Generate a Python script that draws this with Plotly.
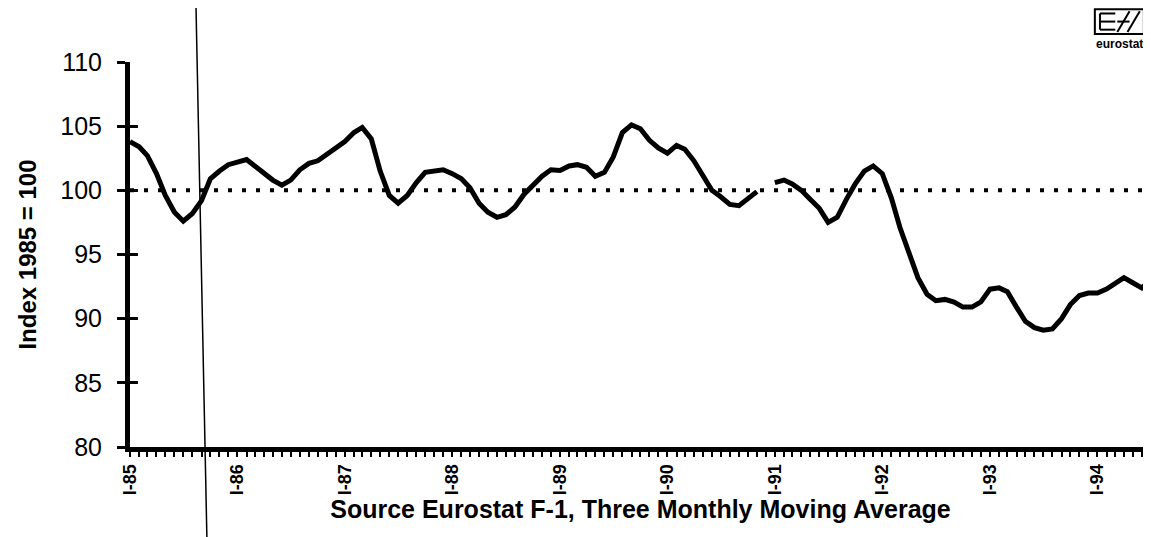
import pandas as pd
import plotly.graph_objects as go

# three monthly moving average, index 1985 = 100, Jan 1985 onwards (None = missing month)
values_1985 = [103.8, 103.4, 102.7, 101.3, 99.6, 98.3, 97.6, 98.2, 99.2, 100.9, 101.5, 102.0]
values_1986 = [102.2, 102.4, 101.9, 101.3, 100.8, 100.4, 100.8, 101.6, 102.1, 102.3, 102.8, 103.2]
values_1987 = [103.8, 104.5, 104.9, 104.0, 101.5, 99.6, 99.0, 99.6, 100.6, 101.4, 101.55, 101.6]
values_1988 = [101.3, 100.9, 100.2, 99.0, 98.3, 97.9, 98.1, 98.7, 99.7, 100.4, 101.1, 101.6]
values_1989 = [101.55, 101.9, 102.0, 101.8, 101.1, 101.4, 102.6, 104.5, 105.1, 104.8, 103.9, 103.3]
values_1990 = [102.9, 103.5, 103.2, 102.3, 101.2, 100.0, 99.5, 98.9, 98.8, 99.3, 99.9, None]
values_1991 = [100.6, 100.8, 100.5, 100.0, 99.3, 98.6, 97.5, 97.9, 99.3, 100.5, 101.5, 101.9]
values_1992 = [101.3, 99.4, 97.1, 95.0, 93.2, 91.9, 91.4, 91.5, 91.3, 90.9, 90.9, 91.3]
values_1993 = [92.3, 92.4, 92.1, 90.9, 89.8, 89.3, 89.1, 89.2, 90.0, 91.1, 91.8, 92.0]
values_1994 = [92.0, 92.3, 92.7, 93.2, 92.8, 92.4, 93.0, 93.8]

tick_years = [1985, 1986, 1987, 1988, 1989, 1990, 1991, 1992, 1993, 1994]
tick_labels = ["I-85", "I-86", "I-87", "I-88", "I-89", "I-90", "I-91", "I-92", "I-93", "I-94"]
y_ticks = [80, 85, 90, 95, 100, 105, 110]
base_level = 100

index_values = (values_1985 + values_1986 + values_1987 + values_1988 + values_1989
                + values_1990 + values_1991 + values_1992 + values_1993 + values_1994)
months = pd.date_range("1985-01-01", periods=len(index_values), freq="MS")
tick_dates = [f"{y}-01-01" for y in tick_years]

FONT = "Liberation Sans, Arial, Helvetica, sans-serif"

fig = go.Figure()
fig.add_trace(go.Scatter(x=[months[0], months[-1]], y=[base_level, base_level], mode="lines",
                         line=dict(color="black", width=4, dash="4px,10px"),
                         hoverinfo="skip", showlegend=False))
fig.add_trace(go.Scatter(x=months, y=index_values, mode="lines", connectgaps=False,
                         line=dict(color="black", width=5), showlegend=False))
# dummy trace so the overlaying axis (inner half of the y ticks) is drawn
fig.add_trace(go.Scatter(x=[months[0]], y=[base_level], yaxis="y2", mode="markers",
                         marker=dict(opacity=0), hoverinfo="skip", showlegend=False))

# page body has an 8px margin, so the figure is 8px smaller and margins shifted
fig.update_layout(
    width=1143, height=529,
    margin=dict(l=122, r=0, t=54, b=90),
    paper_bgcolor="white", plot_bgcolor="white",
    font=dict(family=FONT, color="black"),
    xaxis=dict(
        type="date", range=["1985-01-01", "1994-07-02"],
        tickmode="array", tickvals=tick_dates, ticktext=tick_labels,
        tickangle=-90, tickfont=dict(size=18, family=FONT, weight="bold"),
        showline=True, linecolor="black", linewidth=5,
        ticks="outside", ticklen=5, tickwidth=2, tickcolor="black",
        minor=dict(tickmode="linear", tick0="1985-01-01", dtick="M1",
                   ticks="outside", ticklen=5, tickwidth=2, tickcolor="black"),
        showgrid=False, zeroline=False,
        title=dict(text="Source Eurostat F-1, Three Monthly Moving Average",
                   font=dict(size=25, family=FONT, weight="bold"), standoff=6),
    ),
    yaxis=dict(
        range=[80, 110], tickvals=y_ticks, tickfont=dict(size=25),
        showline=True, linecolor="black", linewidth=5,
        ticks="outside", ticklen=8, tickwidth=3, tickcolor="black",
        showgrid=False, zeroline=False, ticklabelstandoff=10,
        title=dict(text="Index 1985 = 100", font=dict(size=24, family=FONT, weight="bold"),
                   standoff=18),
    ),
    yaxis2=dict(
        range=[80, 110], tickvals=y_ticks, overlaying="y", side="left",
        ticks="inside", ticklen=8, tickwidth=3, tickcolor="black",
        showticklabels=False, showgrid=False, zeroline=False, showline=False,
    ),
)

# scanning artefact: thin near-vertical line crossing the page
fig.add_shape(type="line", xref="paper", yref="paper", x0=0.0645, y0=1.161, x1=0.0753, y1=-0.234,
              line=dict(color="black", width=1.5))

# eurostat logo (top right)
logo = dict(xref="paper", yref="paper", line=dict(color="black", width=2))
fig.add_shape(type="rect", x0=0.945, x1=0.993, y0=1.073, y1=1.137, **logo)
for yy in (1.084, 1.105, 1.126):
    fig.add_shape(type="line", x0=0.950, x1=0.965, y0=yy, y1=yy, **logo)
fig.add_shape(type="line", x0=0.950, x1=0.950, y0=1.084, y1=1.126, **logo)
fig.add_shape(type="line", x0=0.967, x1=0.979, y0=1.078, y1=1.132, **logo)
fig.add_shape(type="line", x0=0.977, x1=0.989, y0=1.078, y1=1.132, **logo)
fig.add_shape(type="line", x0=0.967, x1=0.979, y0=1.105, y1=1.105, **logo)
fig.add_annotation(text="<b>eurostat</b>", xref="paper", yref="paper", x=0.969, y=1.071,
                   xanchor="center", yanchor="top", showarrow=False,
                   font=dict(size=12, family=FONT, color="black"))

fig.write_html("out.html")
